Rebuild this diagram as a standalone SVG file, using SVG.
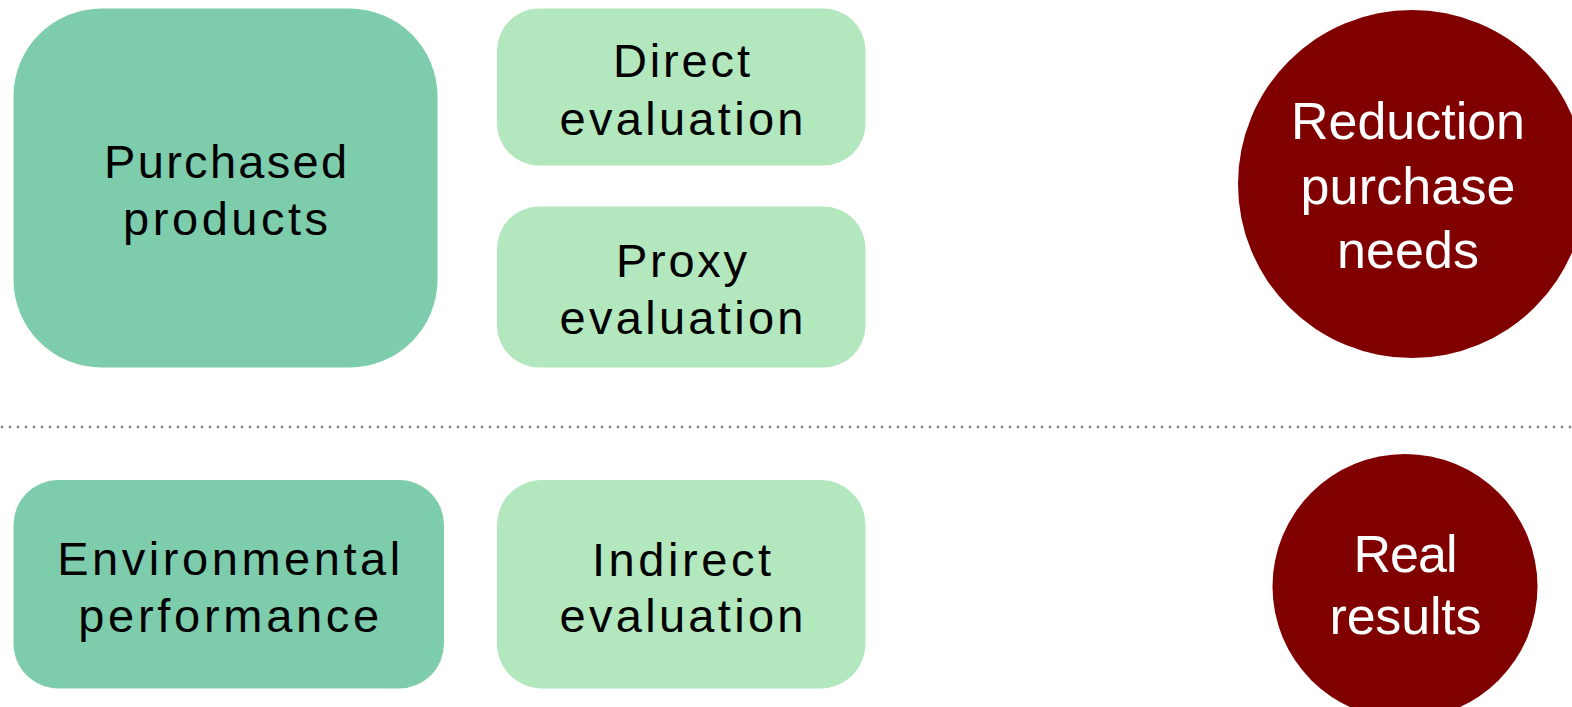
<svg xmlns="http://www.w3.org/2000/svg" width="1572" height="707" viewBox="0 0 1572 707">
<style>
.dark{fill:#7DCDAD}
.light{fill:#B3E8BE}
.red{fill:#800000}
.lbl{font-family:"Liberation Sans",Arial,sans-serif;font-size:47px;fill:#000;text-anchor:middle}
.wlbl{font-family:"Liberation Sans",Arial,sans-serif;font-size:52px;fill:#fff;text-anchor:middle}
</style>
<rect width="1572" height="707" fill="#fff"/>
<g id="connectors">
<line x1="2" y1="427" x2="1572" y2="427" stroke="#888" stroke-width="2.8" stroke-linecap="round" stroke-dasharray="0 8"/>
</g>
<g id="purchased-products">
<rect class="dark" x="13.5" y="8.5" width="424" height="359" rx="88" ry="88"/>
<text class="lbl" x="225.6" y="178" textLength="243" lengthAdjust="spacing">Purchased</text>
<text class="lbl" x="225.6" y="235" textLength="205" lengthAdjust="spacing">products</text>
</g>
<g id="direct-evaluation">
<rect class="light" x="497" y="8.5" width="368.5" height="157" rx="42" ry="42"/>
<text class="lbl" x="681.5" y="77" textLength="137" lengthAdjust="spacing">Direct</text>
<text class="lbl" x="681.5" y="135" textLength="244" lengthAdjust="spacing">evaluation</text>
</g>
<g id="proxy-evaluation">
<rect class="light" x="497" y="206.5" width="368.5" height="161" rx="42" ry="42"/>
<text class="lbl" x="681.5" y="277" textLength="131" lengthAdjust="spacing">Proxy</text>
<text class="lbl" x="681.5" y="334" textLength="244" lengthAdjust="spacing">evaluation</text>
</g>
<g id="environmental-performance">
<rect class="dark" x="13.5" y="480" width="430.5" height="208.5" rx="45" ry="45"/>
<text class="lbl" x="228.7" y="575" textLength="343" lengthAdjust="spacing">Environmental</text>
<text class="lbl" x="228.7" y="632" textLength="301" lengthAdjust="spacing">performance</text>
</g>
<g id="indirect-evaluation">
<rect class="light" x="497" y="480" width="368.5" height="208.5" rx="45" ry="45"/>
<text class="lbl" x="681.5" y="576" textLength="179" lengthAdjust="spacing">Indirect</text>
<text class="lbl" x="681.5" y="632" textLength="244" lengthAdjust="spacing">evaluation</text>
</g>
<g id="reduction-purchase-needs">
<circle class="red" cx="1412" cy="184" r="174"/>
<text class="wlbl" x="1408" y="139" textLength="234" lengthAdjust="spacing">Reduction</text>
<text class="wlbl" x="1408" y="203.5" textLength="215" lengthAdjust="spacing">purchase</text>
<text class="wlbl" x="1408" y="268" textLength="142" lengthAdjust="spacing">needs</text>
</g>
<g id="real-results">
<circle class="red" cx="1405" cy="586.5" r="132.5"/>
<text class="wlbl" x="1405.5" y="571.5" textLength="104" lengthAdjust="spacing">Real</text>
<text class="wlbl" x="1405.5" y="634" textLength="152" lengthAdjust="spacing">results</text>
</g>
</svg>
